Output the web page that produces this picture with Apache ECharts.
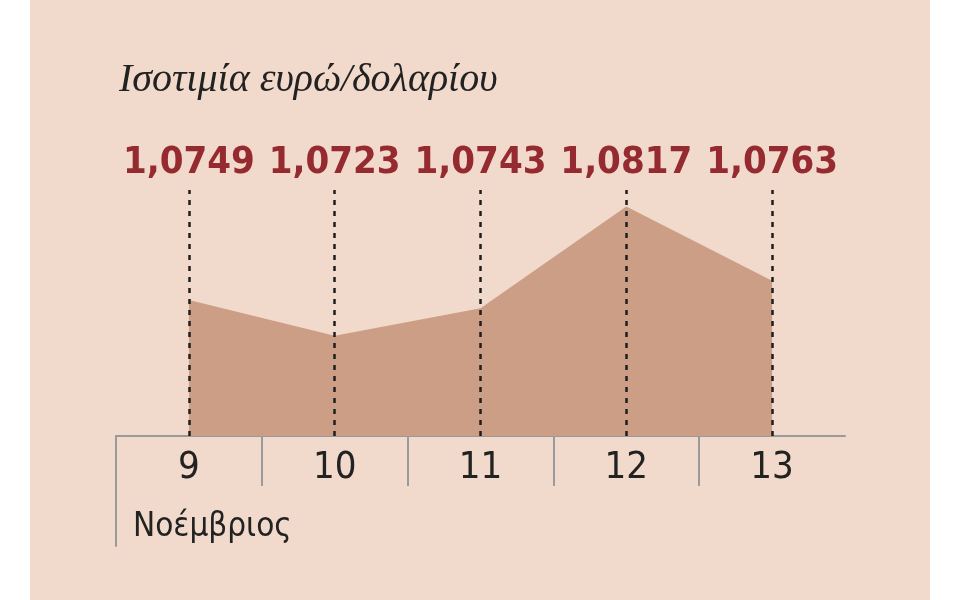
<!DOCTYPE html>
<html>
<head>
<meta charset="utf-8">
<script src="https://cdn.jsdelivr.net/npm/echarts@6/dist/echarts.min.js"></script>
<style>
html,body{margin:0;padding:0;background:#ffffff;}
#chart{width:960px;height:600px;}
</style>
</head>
<body>
<div id="chart"></div>
<script>
const titleText = 'Ισοτιμία ευρώ/δολαρίου';
const monthLabel = 'Νοέμβριος';
const categories = ['9', '10', '11', '12', '13'];
const values = [1.0749, 1.0723, 1.0743, 1.0817, 1.0763];
const tickBands = ['', '', '', ''];

const fmt = v => v.toFixed(4).replace('.', ',');
const narrow = '"Liberation Sans Narrow", "DejaVu Sans Condensed", "Noto Sans", sans-serif';

const chart = echarts.init(document.getElementById('chart'));
chart.setOption({
  backgroundColor: '#ffffff',
  animation: false,
  graphic: [{
    type: 'rect', z: -10, silent: true,
    shape: { x: 30, y: 0, width: 900, height: 600 },
    style: { fill: '#f1dacb' }
  }],
  title: [{
    text: titleText, left: 114, top: 55,
    textStyle: { fontFamily: '"Liberation Serif", "DejaVu Serif", serif', fontStyle: 'italic', fontWeight: 'normal', fontSize: 40, color: '#222222' }
  }, {
    text: monthLabel, left: 128, top: 506,
    textStyle: { fontFamily: narrow, fontWeight: 'normal', fontSize: 33, color: '#222222' }
  }],
  grid: [
    { left: 116, right: 115, top: 190, bottom: 164 },
    { left: 116, width: 583, top: 436, height: 110 }
  ],
  xAxis: [{
    type: 'category', gridIndex: 0, data: categories, boundaryGap: true,
    axisLine: { show: true, onZero: false, lineStyle: { color: '#9a9a9a', width: 2 } },
    axisTick: { show: false },
    axisLabel: { fontFamily: narrow, fontSize: 38, color: '#222222', margin: 13 },
    splitLine: { show: false }
  }, {
    type: 'category', gridIndex: 1, data: tickBands, position: 'top', boundaryGap: true,
    axisLine: { show: false, onZero: false },
    axisTick: { show: true, inside: true, length: 50, lineStyle: { color: '#9a9a9a', width: 2 } },
    axisLabel: { show: false },
    splitLine: { show: false }
  }],
  yAxis: [{
    type: 'value', gridIndex: 0, min: 1.065, max: 1.0829,
    axisLine: { show: false }, axisTick: { show: false }, axisLabel: { show: false }, splitLine: { show: false }
  }, {
    type: 'value', gridIndex: 1, min: 0, max: 1,
    axisLine: { show: true, onZero: false, lineStyle: { color: '#9a9a9a', width: 2 } },
    axisTick: { show: false }, axisLabel: { show: false }, splitLine: { show: false }
  }],
  series: [{
    type: 'line', xAxisIndex: 0, yAxisIndex: 0,
    data: values,
    symbol: 'none',
    lineStyle: { width: 0 },
    areaStyle: { color: '#cc9e85', opacity: 1, origin: 'start' },
    markLine: {
      silent: true, symbol: 'none', z: 5,
      lineStyle: { color: '#1e1e1e', width: 2.5, type: [5, 6] },
      label: {
        show: true, position: 'end', distance: 8,
        fontFamily: narrow, fontWeight: 'bold', fontSize: 38, color: '#952a31'
      },
      data: categories.map((c, i) => ({ xAxis: c, label: { formatter: fmt(values[i]) } }))
    }
  }]
});
</script>
</body>
</html>
